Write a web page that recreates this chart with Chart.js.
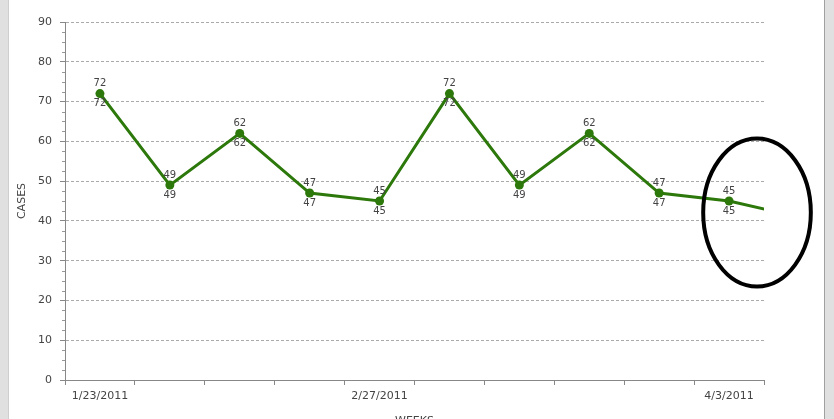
<!DOCTYPE html>
<html>
<head>
<meta charset="utf-8">
<script src="https://cdn.jsdelivr.net/npm/chart.js@4.4.1/dist/chart.umd.min.js"></script>
<style>
html,body{margin:0;padding:0;overflow:hidden;background:#fff}
#wrap{width:834px;height:428px}
</style>
</head>
<body>
<div id="wrap"><canvas id="c" width="834" height="428"></canvas></div>
<script>
// ---- data ----
const weekLabels = ['1/23/2011', '', '', '', '2/27/2011', '', '', '', '', '4/3/2011', ''];
const cases = [72, 49, 62, 47, 45, 72, 49, 62, 47, 45, 41];
const visibleWeeks = 10;            // last category shown on the axis is index 9
const caseTicks = [0, 10, 20, 30, 40, 50, 60, 70, 80, 90];
const minorStep = 2.5;
// highlight ellipse (annotation), in data units
const highlightCenter = { week: 9.4, cases: 42.1 };
const highlightRadius = { week: 0.77, cases: 18.6 };

const FONT = "'DejaVu Sans', Verdana, sans-serif";
const GREEN = '#2c780a';

const framePlugin = {
  id: 'frame',
  beforeDraw(chart) {
    const ctx = chart.ctx, w = chart.width, h = chart.height;
    ctx.save();
    ctx.fillStyle = '#ffffff';
    ctx.fillRect(0, 0, w, h);
    ctx.fillStyle = '#e0e0e0';
    ctx.fillRect(0, 0, 8, h);
    ctx.fillRect(824, 0, w - 824, h);
    ctx.fillStyle = '#cfcfcf';
    ctx.fillRect(8, 0, 1, h);
    ctx.fillStyle = '#a0a0a0';
    ctx.fillRect(824, 0, 1, h);
    ctx.restore();
  }
};

const minorTickPlugin = {
  id: 'minorTicks',
  afterDraw(chart) {
    const y = chart.scales.y, ctx = chart.ctx;
    const left = chart.chartArea.left;
    ctx.save();
    ctx.strokeStyle = '#999';
    ctx.lineWidth = 1;
    ctx.beginPath();
    for (let v = caseTicks[0]; v <= caseTicks[caseTicks.length - 1]; v += minorStep) {
      if (v % 10 === 0) continue;
      const py = Math.round(y.getPixelForValue(v)) + 0.5;
      ctx.moveTo(left - 3, py);
      ctx.lineTo(left, py);
    }
    ctx.stroke();
    ctx.restore();
  }
};

const valueLabelPlugin = {
  id: 'valueLabels',
  afterDatasetsDraw(chart) {
    const ctx = chart.ctx;
    const meta = chart.getDatasetMeta(0);
    ctx.save();
    ctx.font = '10px ' + FONT;
    ctx.fillStyle = '#444';
    ctx.textAlign = 'center';
    ctx.textBaseline = 'middle';
    meta.data.forEach((pt, i) => {
      if (i >= visibleWeeks) return;
      const txt = String(cases[i]);
      ctx.fillText(txt, pt.x, pt.y - 10);
      ctx.fillText(txt, pt.x, pt.y + 10);
    });
    ctx.restore();
  }
};

const ellipsePlugin = {
  id: 'highlight',
  afterDraw(chart) {
    const x = chart.scales.x, y = chart.scales.y, ctx = chart.ctx;
    const cx = x.getPixelForValue(highlightCenter.week);
    const cy = y.getPixelForValue(highlightCenter.cases);
    const rx = (x.getPixelForValue(1) - x.getPixelForValue(0)) * highlightRadius.week;
    const ry = y.getPixelForValue(0) - y.getPixelForValue(highlightRadius.cases);
    ctx.save();
    ctx.strokeStyle = '#000';
    ctx.lineWidth = 4;
    ctx.beginPath();
    ctx.ellipse(cx, cy, rx, ry, 0, 0, Math.PI * 2);
    ctx.stroke();
    ctx.restore();
  }
};

new Chart(document.getElementById('c'), {
  type: 'line',
  data: {
    labels: weekLabels,
    datasets: [{
      label: 'CASES',
      data: cases,
      borderColor: GREEN,
      backgroundColor: GREEN,
      borderWidth: 3,
      pointRadius: 4.5,
      pointBorderWidth: 0,
      pointBackgroundColor: GREEN,
      tension: 0,
      fill: false,
      clip: 0
    }]
  },
  options: {
    responsive: false,
    animation: false,
    layout: { padding: { top: 22, right: 70, left: 0, bottom: 0 } },
    plugins: { legend: { display: false }, tooltip: { enabled: false } },
    scales: {
      x: {
        type: 'category',
        offset: true,
        afterDataLimits(scale) { scale.min = 0; scale.max = visibleWeeks - 1; },
        grid: {
          offset: true,
          drawOnChartArea: false,
          drawTicks: true,
          tickLength: 5,
          tickColor: '#888',
          tickWidth: 1
        },
        border: { display: true, color: '#888', width: 1 },
        ticks: {
          autoSkip: false,
          maxRotation: 0,
          padding: 5,
          color: '#444',
          font: { family: FONT, size: 11 },
          callback: (v, i) => weekLabels[v]
        },
        title: {
          display: true,
          text: 'WEEKS',
          color: '#444',
          font: { family: FONT, size: 11 },
          padding: { top: 4, bottom: 0 }
        },
        afterFit(scale) { scale.height = 48; }
      },
      y: {
        min: caseTicks[0],
        max: caseTicks[caseTicks.length - 1],
        ticks: {
          stepSize: 10,
          padding: 8,
          color: '#444',
          font: { family: FONT, size: 11 }
        },
        grid: {
          color: ctx => (ctx.tick && ctx.tick.value === 0) ? 'rgba(0,0,0,0)' : '#aaa',
          lineWidth: 1,
          tickLength: 5,
          tickColor: '#888',
          tickBorderDash: []
        },
        border: { display: true, color: '#888', width: 1, dash: [3, 2] },
        title: {
          display: true,
          text: 'CASES',
          color: '#444',
          font: { family: FONT, size: 11 },
          padding: { top: 16, bottom: 0 }
        },
        afterFit(scale) { scale.width = 65; }
      }
    }
  },
  plugins: [framePlugin, minorTickPlugin, valueLabelPlugin, ellipsePlugin]
});
</script>
</body>
</html>
